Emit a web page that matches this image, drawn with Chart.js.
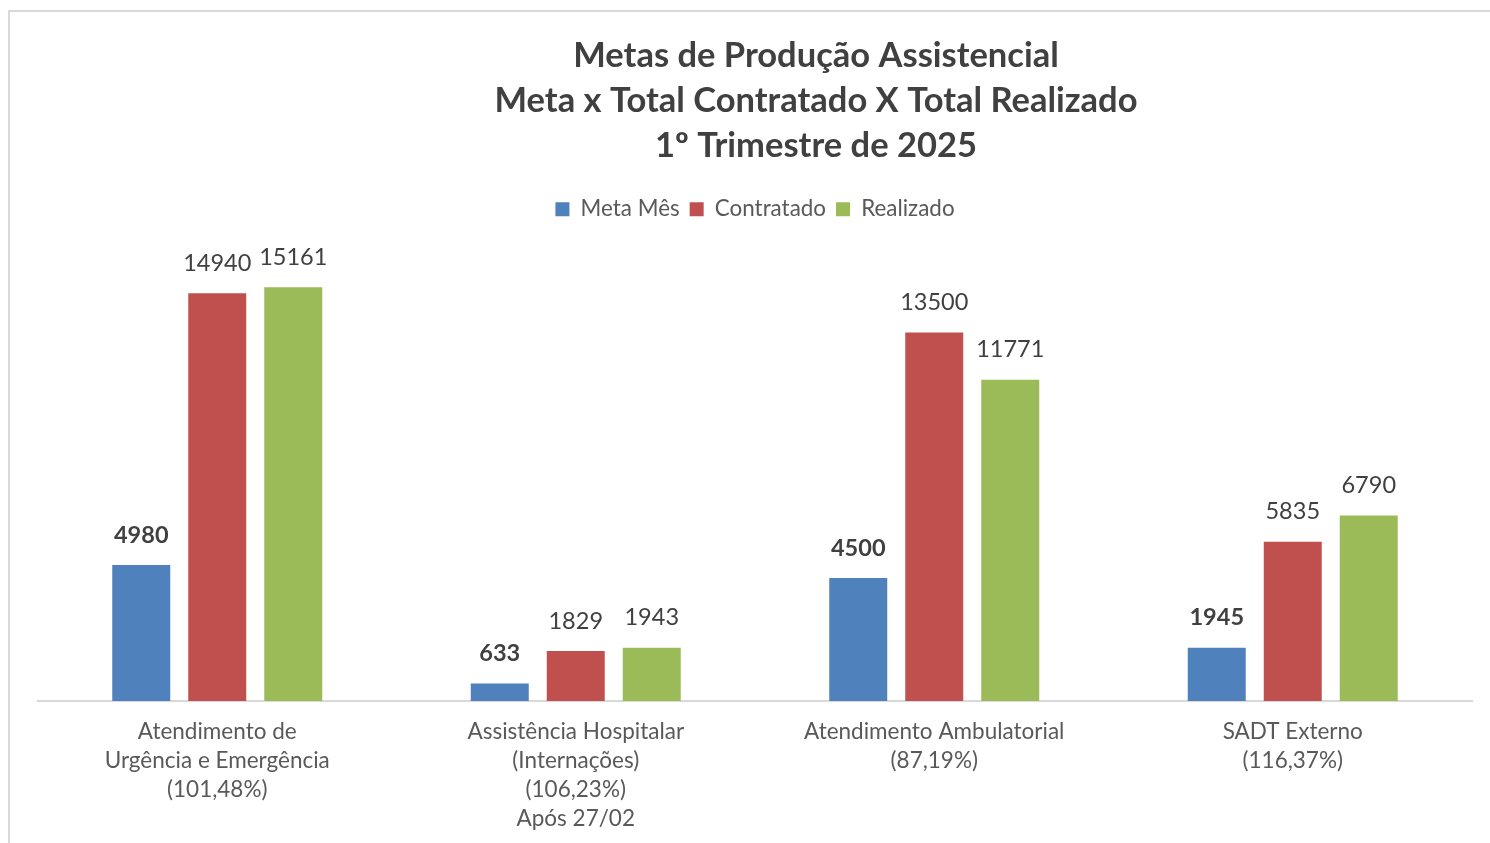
<!DOCTYPE html>
<html>
<head>
<meta charset="utf-8">
<script src="https://cdn.jsdelivr.net/npm/chart.js@4.4.1/dist/chart.umd.min.js"></script>
<style>
  html, body { margin: 0; padding: 0; background: #fff; overflow: hidden; }
  #frame { position: absolute; left: 8px; top: 10px; width: 1600px; height: 900px; border: 2px solid #d9d9d9; }
  #wrap { position: absolute; left: 0; top: 0; width: 1490px; height: 849px; }
</style>
</head>
<body>
<div id="frame"></div>
<div id="wrap"><canvas id="chart"></canvas></div>
<script>
// --- Dados ---
const categorias = [
    ['Atendimento de', 'Urgência e Emergência', '(101,48%)'],
    ['Assistência Hospitalar', '(Internações)', '(106,23%)', 'Após 27/02'],
    ['Atendimento Ambulatorial', '(87,19%)'],
    ['SADT Externo', '(116,37%)']
];
const metaMes = [4980, 633, 4500, 1945];
const contratado = [14940, 1829, 13500, 5835];
const realizado = [15161, 1943, 11771, 6790];
const tituloLinhas = [
    'Metas de Produção Assistencial',
    'Meta x Total Contratado X Total Realizado',
    '1º Trimestre de 2025'
];

const FONTE = 'Lato, "Noto Sans", sans-serif';

// Título desenhado à mão (fica deslocado à direita no original)
const tituloPlugin = {
    id: 'tituloPlugin',
    afterDraw(chart) {
        const ctx = chart.ctx;
        ctx.save();
        ctx.fillStyle = '#404040';
        ctx.font = 'bold 34.5px ' + FONTE;
        ctx.textAlign = 'center';
        ctx.textBaseline = 'middle';
        tituloLinhas.forEach((linha, i) => ctx.fillText(linha, 816, 56 + i * 45));
        ctx.restore();
    }
};

// Rótulos de valor acima das barras
const rotulosPlugin = {
    id: 'rotulosPlugin',
    afterDatasetsDraw(chart) {
        const ctx = chart.ctx;
        ctx.save();
        ctx.textAlign = 'center';
        ctx.textBaseline = 'middle';
        chart.data.datasets.forEach((ds, i) => {
            const meta = chart.getDatasetMeta(i);
            ctx.font = (i === 0 ? 'bold ' : '') + '23.5px ' + FONTE;
            ctx.fillStyle = '#404040';
            meta.data.forEach((bar, j) => {
                ctx.fillText(String(ds.data[j]), bar.x, bar.y - 30);
            });
        });
        ctx.restore();
    }
};

const ctx = document.getElementById('chart').getContext('2d');
new Chart(ctx, {
    type: 'bar',
    data: {
        labels: categorias,
        datasets: [
            { label: 'Meta Mês', data: metaMes, backgroundColor: '#4F81BD' },
            { label: 'Contratado', data: contratado, backgroundColor: '#C0504D' },
            { label: 'Realizado', data: realizado, backgroundColor: '#9BBB59' }
        ]
    },
    options: {
        responsive: true,
        maintainAspectRatio: false,
        animation: false,
        categoryPercentage: 0.636,
        barPercentage: 0.763,
        layout: { padding: { top: 188, left: 38, right: 18, bottom: 0 } },
        plugins: {
            title: { display: false },
            tooltip: { enabled: false },
            legend: {
                position: 'top',
                labels: {
                    boxWidth: 14,
                    boxHeight: 14,
                    padding: 10,
                    color: '#595959',
                    font: { family: FONTE, size: 22.4 }
                }
            }
        },
        scales: {
            x: {
                grid: { display: false, drawTicks: false },
                border: { display: true, color: '#d9d9d9', width: 2 },
                ticks: {
                    color: '#595959',
                    padding: 16,
                    maxRotation: 0,
                    autoSkip: false,
                    font: { family: FONTE, size: 22.5, lineHeight: 1.29 }
                }
            },
            y: {
                display: false,
                min: 0,
                max: 17240
            }
        }
    },
    plugins: [tituloPlugin, rotulosPlugin]
});
</script>
</body>
</html>
